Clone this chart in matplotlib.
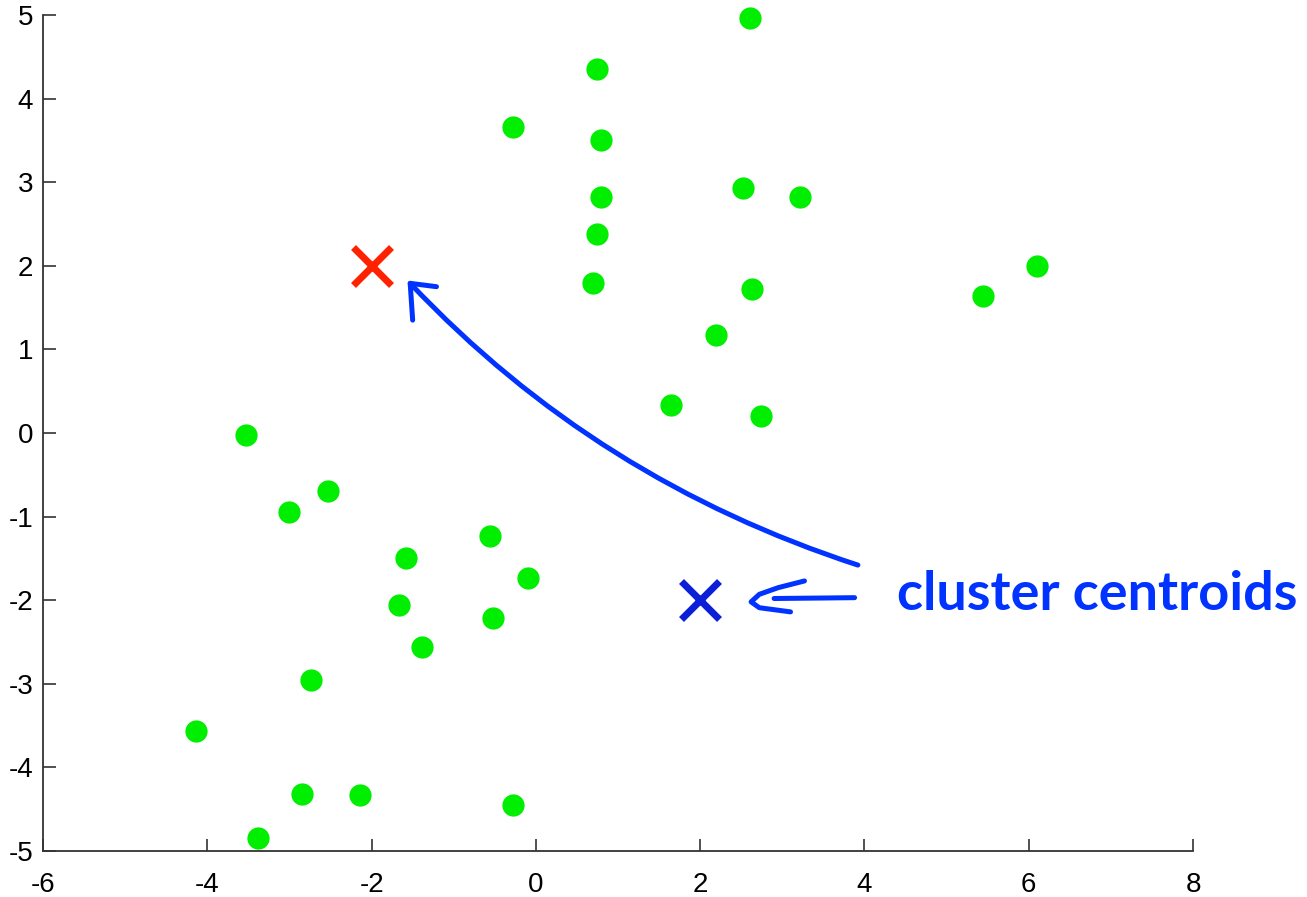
#!/usr/bin/env python3
"""K-means illustration: data points with two cluster centroids."""

import matplotlib
matplotlib.use("Agg")
import matplotlib.pyplot as plt
from matplotlib.path import Path
from matplotlib.patches import PathPatch

# data points
pts_x = [2.61, 0.74, -0.28, 0.79, 2.52, 3.21, 0.79, 0.74, 0.69, 2.63,
         5.44, 6.10, 2.19, 1.64, 2.74, -3.53, -2.53, -3.01, -1.58, -0.56,
         -0.10, -1.67, -0.52, -1.39, -2.74, -4.14, -2.85, -2.14, -0.28, -3.38]
pts_y = [4.96, 4.35, 3.66, 3.50, 2.93, 2.82, 2.82, 2.38, 1.79, 1.72,
         1.64, 2.00, 1.17, 0.33, 0.20, -0.02, -0.69, -0.94, -1.50, -1.23,
         -1.73, -2.06, -2.21, -2.56, -2.95, -3.56, -4.32, -4.33, -4.45, -4.84]

# centroids
red_centroid = (-2, 2)
blue_centroid = (2, -2)

# hand-drawn curved arrow (bezier: start, two controls, end)
curve_pts = [(3.92, -1.58), (1.8, -0.9), (0.0, 0.2), (-1.53, 1.79)]
head_x = [-1.21, -1.53, -1.50]
head_y = [1.75, 1.79, 1.35]

# small arrow pointing at blue centroid
shaft_x = [3.88, 2.90]
shaft_y = [-1.97, -1.98]
arrow2_x = [3.27, 2.95, 2.72, 2.62, 2.72, 3.10]
arrow2_y = [-1.77, -1.85, -1.93, -2.02, -2.09, -2.14]

xticks = [-6, -4, -2, 0, 2, 4, 6, 8]
yticks = [-5, -4, -3, -2, -1, 0, 1, 2, 3, 4, 5]

plt.rcParams['font.family'] = ['Liberation Sans', 'DejaVu Sans']
plt.rcParams['axes.unicode_minus'] = False

fig = plt.figure(figsize=(13.07, 8.97), dpi=100)
ax = fig.add_axes([0.0329, 0.0513, 0.8799, 0.932])

ax.plot(pts_x, pts_y, 'o', color='#00ee00', markersize=15, zorder=3,
        clip_on=False)
ax.plot(*red_centroid, 'x', color='#ff2200', markersize=27, mew=5, zorder=4)
ax.plot(*blue_centroid, 'x', color='#0a1fd6', markersize=27, mew=5, zorder=4)

stroke = dict(color='#0033ff', linewidth=3.6, solid_capstyle='round',
              solid_joinstyle='round', zorder=5)
curve = Path(curve_pts, [Path.MOVETO, Path.CURVE4, Path.CURVE4, Path.CURVE4])
ax.add_patch(PathPatch(curve, facecolor='none', edgecolor='#0033ff',
                       linewidth=3.6, capstyle='round', zorder=5))
ax.plot(head_x, head_y, **stroke)
ax.plot(shaft_x, shaft_y, **stroke)
ax.plot(arrow2_x, arrow2_y, **stroke)

ax.text(4.40, -1.93, "cluster centroids", color='#0033ff', fontsize=39,
        weight='bold', va='center', ha='left', family=['Lato', 'DejaVu Sans'],
        clip_on=False)

ax.set_xlim(-6, 8)
ax.set_ylim(-5, 5)
ax.set_xticks(xticks)
ax.set_yticks(yticks)
ax.tick_params(direction='in', length=9, width=1.2, color='#333333',
               labelsize=20)
ax.tick_params(axis='x', pad=15)
ax.tick_params(axis='y', pad=7)
for side in ['top', 'right']:
    ax.spines[side].set_visible(False)
for side in ['left', 'bottom']:
    ax.spines[side].set_color('#333333')
    ax.spines[side].set_linewidth(1.3)

fig.savefig("out.png", dpi=100)
